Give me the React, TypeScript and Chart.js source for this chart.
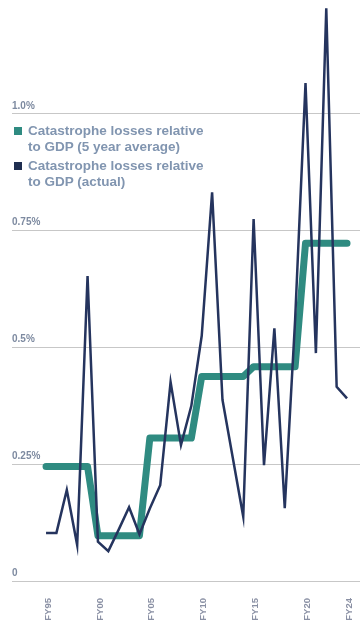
import React, { useEffect, useRef } from "react";
import { Chart, registerables } from "chart.js";

Chart.register(...registerables);

const yearLabels = [
  "FY95", "FY96", "FY97", "FY98", "FY99",
  "FY00", "FY01", "FY02", "FY03", "FY04",
  "FY05", "FY06", "FY07", "FY08", "FY09",
  "FY10", "FY11", "FY12", "FY13", "FY14",
  "FY15", "FY16", "FY17", "FY18", "FY19",
  "FY20", "FY21", "FY22", "FY23", "FY24",
];

const actualLosses = [
  0.103, 0.103, 0.195, 0.077, 0.653,
  0.084, 0.064, 0.11, 0.158, 0.1,
  0.155, 0.205, 0.426, 0.291, 0.375,
  0.525, 0.832, 0.388, 0.263, 0.138,
  0.775, 0.248, 0.541, 0.156, 0.56,
  1.066, 0.488, 1.226, 0.416, 0.391,
];

const fiveYearAverage = [
  0.245, 0.245, 0.245, 0.245, 0.245,
  0.097, 0.097, 0.097, 0.097, 0.097,
  0.306, 0.306, 0.306, 0.306, 0.306,
  0.438, 0.438, 0.438, 0.438, 0.438,
  0.459, 0.459, 0.459, 0.459, 0.459,
  0.723, 0.723, 0.723, 0.723, 0.723,
];

const yTickValues = [0, 0.25, 0.5, 0.75, 1.0];
const yTickLabels = ["0", "0.25%", "0.5%", "0.75%", "1.0%"];
const xTickLabels = ["FY95", "FY00", "FY05", "FY10", "FY15", "FY20", "FY24"];

const legendItems = [
  { text: ["Catastrophe losses relative", "to GDP (5 year average)"], color: "#2f8b81" },
  { text: ["Catastrophe losses relative", "to GDP (actual)"], color: "#1f2e50" },
];

export default function App() {
  const canvasRef = useRef<HTMLCanvasElement | null>(null);

  useEffect(() => {
    const canvas = canvasRef.current;
    if (!canvas) return;
    const toPoints = (vals: number[]) =>
      vals.map((v, i) => ({ x: i, y: v }));
    const xTickIdx = xTickLabels.map((l) => yearLabels.indexOf(l));

    const chart = new Chart(canvas, {
      type: "line",
      data: {
        datasets: [
          {
            label: "Catastrophe losses relative to GDP (actual)",
            data: toPoints(actualLosses),
            borderColor: "#25345e",
            borderWidth: 2.5,
            pointRadius: 0,
            tension: 0,
            borderJoinStyle: "miter",
            order: 1,
          },
          {
            label: "Catastrophe losses relative to GDP (5 year average)",
            data: toPoints(fiveYearAverage),
            borderColor: "#2f8b81",
            borderWidth: 7,
            pointRadius: 0,
            tension: 0,
            borderCapStyle: "round",
            borderJoinStyle: "round",
            order: 2,
          },
        ],
      },
      options: {
        responsive: false,
        animation: false,
        layout: { padding: { left: 12, right: 0, top: 0, bottom: 6 } },
        plugins: { legend: { display: false }, tooltip: { enabled: false } },
        scales: {
          x: {
            type: "linear",
            min: -3.28,
            max: 30.25,
            grid: { display: false, drawTicks: false },
            border: { display: false },
            afterBuildTicks: (axis: any) => {
              axis.ticks = xTickIdx.map((v) => ({ value: v }));
            },
            afterFit: (axis: any) => {
              axis.height = 41;
              axis.paddingLeft = 0;
              axis.paddingRight = 0;
            },
            ticks: {
              autoSkip: false,
              minRotation: 90,
              maxRotation: 90,
              padding: 17,
              labelOffset: 2,
              color: "#8a90a4",
              font: { family: "Liberation Sans, Arial, sans-serif", size: 9.5, weight: "bold" },
              callback: (v: any) => yearLabels[Number(v)] ?? "",
            },
          },
          y: {
            type: "linear",
            min: 0,
            max: 1.244,
            grid: { color: "rgba(0,0,0,0.22)", lineWidth: 1, drawTicks: false },
            border: { display: false },
            afterBuildTicks: (axis: any) => {
              axis.ticks = yTickValues.map((v) => ({ value: v }));
            },
            afterFit: (axis: any) => {
              axis.paddingTop = 0;
              axis.paddingBottom = 0;
            },
            ticks: {
              mirror: true,
              padding: 0,
              labelOffset: -8,
              color: "#7d8aa0",
              font: { family: "Liberation Sans, Arial, sans-serif", size: 10, weight: "bold" },
              callback: (v: any) => {
                const i = yTickValues.indexOf(Number(v));
                return i >= 0 ? yTickLabels[i] : "";
              },
            },
          },
        },
      },
    });
    return () => chart.destroy();
  }, []);

  return (
    <div style={{ position: "absolute", left: 0, top: 0, width: 360, height: 628, background: "#fff" }}>
      <canvas ref={canvasRef} width={360} height={628} style={{ display: "block" }} />
      <div
        style={{
          position: "absolute",
          left: 14,
          top: 123,
          fontFamily: "Liberation Sans, Arial, sans-serif",
          fontWeight: "bold",
          fontSize: 13.5,
          lineHeight: "16px",
          color: "#8195b0",
        }}
      >
        {legendItems.map((item, k) => (
          <div key={k} style={{ display: "flex", alignItems: "flex-start", marginBottom: 3 }}>
            <span
              style={{
                display: "inline-block",
                width: 8,
                height: 8,
                background: item.color,
                marginTop: 4,
                marginRight: 6,
                flex: "none",
              }}
            />
            <span>
              {item.text.map((t, j) => (
                <div key={j}>{t}</div>
              ))}
            </span>
          </div>
        ))}
      </div>
    </div>
  );
}
